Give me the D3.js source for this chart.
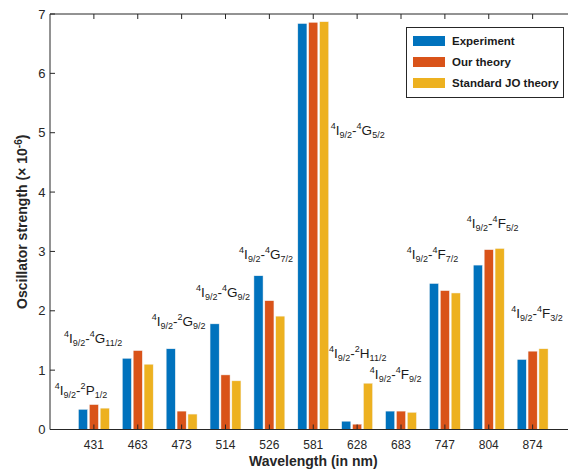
<!DOCTYPE html>
<html><head><meta charset="utf-8">
<script src="https://cdn.jsdelivr.net/npm/d3@7"></script>
<style>
html,body{margin:0;padding:0;background:#fff;}
svg{display:block;font-family:"Liberation Sans",Arial,Helvetica,sans-serif;}
</style></head>
<body>
<svg id="chart" width="568" height="475"></svg>
<script>
// ---------- data ----------
const wavelengths = ["431","463","473","514","526","581","628","683","747","804","874"];
const seriesNames = ["Experiment","Our theory","Standard JO theory"];
const experiment = [0.34,1.20,1.36,1.78,2.59,6.84,0.14,0.31,2.46,2.77,1.18];
const ourTheory  = [0.42,1.33,0.31,0.92,2.17,6.86,0.09,0.31,2.34,3.03,1.32];
const standardJO = [0.36,1.10,0.26,0.82,1.91,6.87,0.78,0.29,2.30,3.05,1.36];
const yTicks = [0,1,2,3,4,5,6,7];
// transition labels: final state (sup, letter, sub) and anchor in data units (category index units, value)
const transitions = [
  {sup:"2", L:"P", sub:"1/2",  x:0.11, y:0.58},
  {sup:"4", L:"G", sub:"11/2", x:0.32, y:1.46},
  {sup:"2", L:"G", sub:"9/2",  x:2.32, y:1.74},
  {sup:"4", L:"G", sub:"9/2",  x:3.33, y:2.23},
  {sup:"4", L:"G", sub:"7/2",  x:4.31, y:2.88},
  {sup:"4", L:"G", sub:"5/2",  x:6.40, y:4.96},
  {sup:"2", L:"H", sub:"11/2", x:6.36, y:1.20},
  {sup:"4", L:"F", sub:"9/2",  x:7.29, y:0.85},
  {sup:"4", L:"F", sub:"7/2",  x:8.13, y:2.88},
  {sup:"4", L:"F", sub:"5/2",  x:9.50, y:3.39},
  {sup:"4", L:"F", sub:"3/2",  x:10.51, y:1.88}
];
const colors = ["#0072BD","#D95319","#EDB120"];

(function(){
// ---------- layout ----------
const svg = d3.select("#chart");
const mLeft = 50, mTop = 14, mBottom = 429.5, mRight = 576.5;
const axisColor = "#262626";

const xLin = d3.scaleLinear().domain([0, 12]).range([mLeft, mRight]);
const y = d3.scaleLinear().domain([0, 7]).range([mBottom, mTop]);
const sub = d3.scaleBand().domain(seriesNames).range([-16, 16]).paddingInner(0.16).paddingOuter(0.05);

const series = [experiment, ourTheory, standardJO];

// bars
const g = svg.append("g");
series.forEach((vals, si) => {
  g.selectAll(null).data(vals).enter().append("rect")
    .attr("x", (d, i) => xLin(i + 1) + sub(seriesNames[si]))
    .attr("width", sub.bandwidth())
    .attr("y", d => y(d))
    .attr("height", d => y(0) - y(d))
    .attr("fill", colors[si])
    .attr("stroke", "#f4f4f4")
    .attr("stroke-width", 0.5);
});

// axes (box: left, bottom, top)
const tickLen = 5;
const xPos = wavelengths.map((w, i) => xLin(i + 1));
const ax = svg.append("g").attr("stroke", axisColor).attr("stroke-width", 1).attr("fill", "none");
ax.append("line").attr("x1", mLeft).attr("x2", 568).attr("y1", mBottom).attr("y2", mBottom);
ax.append("line").attr("x1", mLeft).attr("x2", 568).attr("y1", mTop).attr("y2", mTop);
ax.append("line").attr("x1", mLeft).attr("x2", mLeft).attr("y1", mTop).attr("y2", mBottom);
ax.selectAll(null).data(xPos).enter().append("line")
  .attr("x1", d => d).attr("x2", d => d).attr("y1", mBottom).attr("y2", mBottom - tickLen);
ax.selectAll(null).data(xPos).enter().append("line")
  .attr("x1", d => d).attr("x2", d => d).attr("y1", mTop).attr("y2", mTop + tickLen);
ax.selectAll(null).data(yTicks).enter().append("line")
  .attr("x1", mLeft).attr("x2", mLeft + tickLen).attr("y1", d => y(d)).attr("y2", d => y(d));

// tick labels
svg.append("g").selectAll("text").data(wavelengths).enter().append("text")
  .attr("x", (d, i) => xLin(i + 1)).attr("y", 449)
  .attr("text-anchor", "middle").attr("font-size", 12).attr("fill", axisColor)
  .text(d => d);
svg.append("g").selectAll("text").data(yTicks).enter().append("text")
  .attr("x", 45.5).attr("y", d => y(d) + 4.5)
  .attr("text-anchor", "end").attr("font-size", 13).attr("fill", axisColor)
  .text(d => d);

// axis titles
svg.append("text").attr("x", (mLeft + mRight) / 2).attr("y", 465.5)
  .attr("text-anchor", "middle").attr("font-size", 14).attr("font-weight", "bold").attr("fill", axisColor)
  .text("Wavelength (in nm)");
const yt = svg.append("text").attr("transform", `translate(27,${(mTop + mBottom) / 2}) rotate(-90)`)
  .attr("text-anchor", "middle").attr("font-size", 14).attr("font-weight", "bold").attr("fill", axisColor);
yt.append("tspan").text("Oscillator strength (\u00D7 10");
yt.append("tspan").attr("dy", -5).attr("font-size", 10).text("-6");
yt.append("tspan").attr("dy", 5).text(")");

// transition annotations
const ann = svg.append("g").attr("fill", "#1a1a1a");
transitions.forEach(t => {
  const tx = ann.append("text").attr("x", xLin(t.x)).attr("y", y(t.y)).attr("font-size", 13.5);
  tx.append("tspan").attr("font-size", 9).attr("dy", -6).text("4");
  tx.append("tspan").attr("dy", 6).text("I");
  tx.append("tspan").attr("font-size", 9).attr("dy", 3).text("9/2");
  tx.append("tspan").attr("dy", -3).text("-");
  tx.append("tspan").attr("font-size", 9).attr("dy", -6).text(t.sup);
  tx.append("tspan").attr("dy", 6).text(t.L);
  tx.append("tspan").attr("font-size", 9).attr("dy", 3).text(t.sub);
});

// legend
const lg = svg.append("g");
lg.append("rect").attr("x", 406.5).attr("y", 27.5).attr("width", 157).attr("height", 70)
  .attr("fill", "#fff").attr("stroke", axisColor).attr("stroke-width", 1);
seriesNames.forEach((n, i) => {
  const cy = 41 + i * 21;
  lg.append("rect").attr("x", 413).attr("y", cy - 5).attr("width", 32).attr("height", 10).attr("fill", colors[i]);
  lg.append("text").attr("x", 452).attr("y", cy + 4).attr("font-size", 11.5).attr("font-weight", "bold")
    .attr("fill", "#1a1a1a").text(n);
});
})();
</script>
</body></html>
